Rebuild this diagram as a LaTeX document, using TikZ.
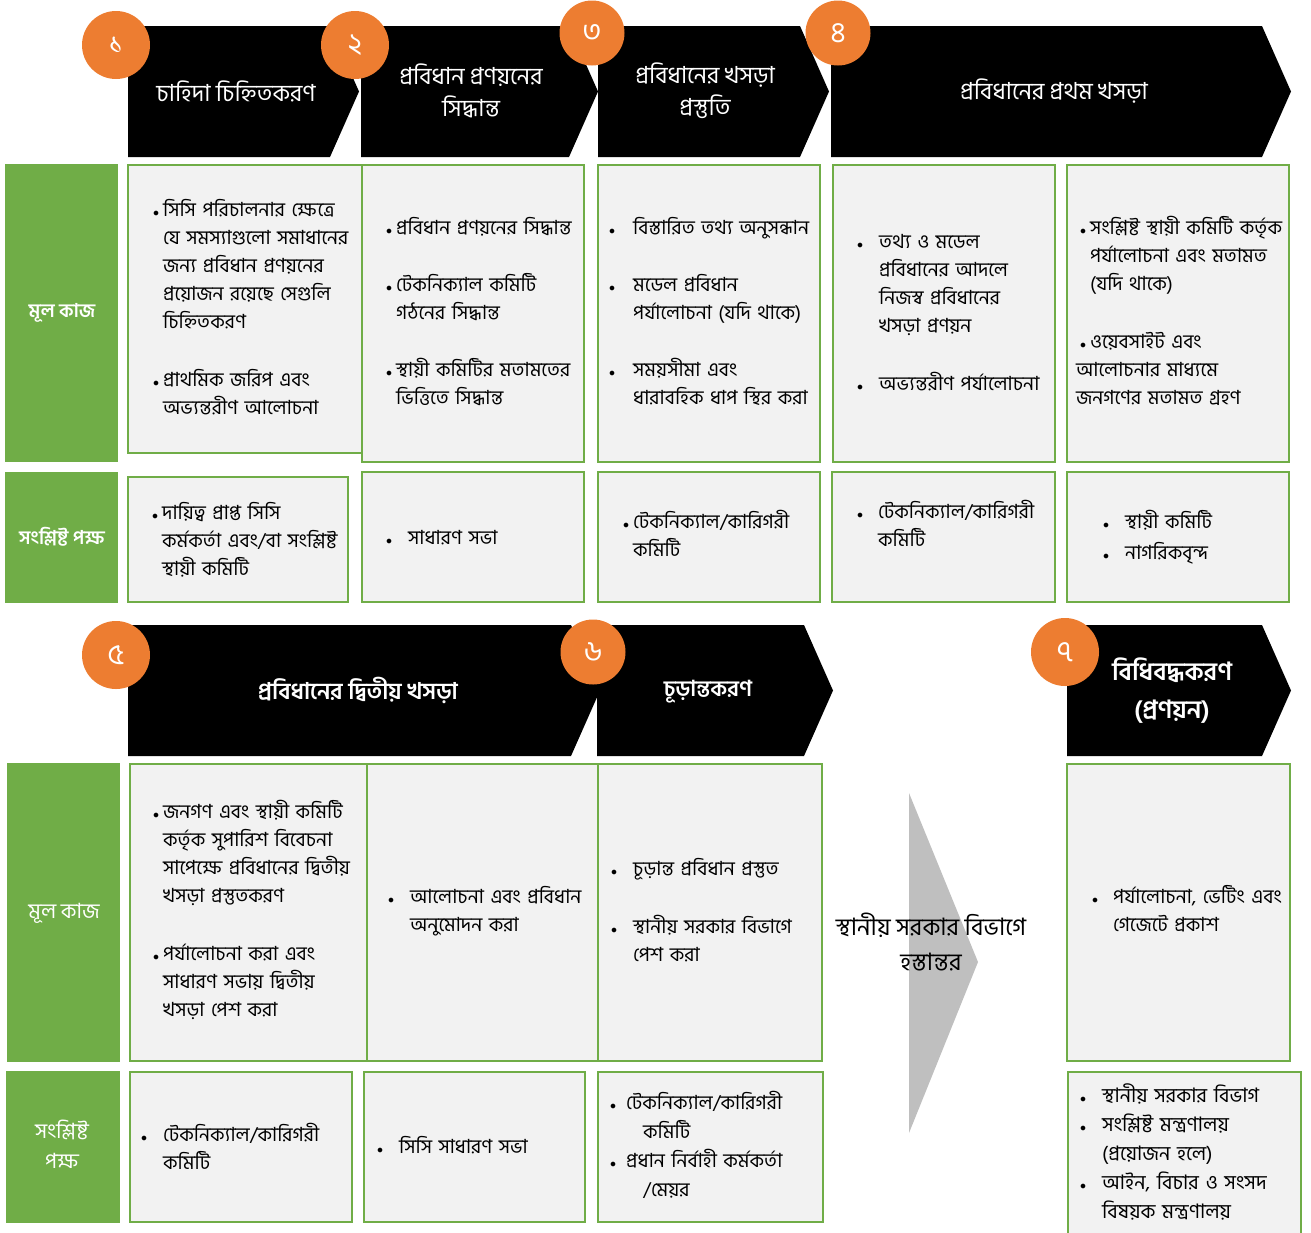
\documentclass[tikz,border=0pt]{standalone}
\usepackage{fontspec}
\setmainfont{Hind Siliguri}[Script=Bengali]
\definecolor{leaf}{HTML}{70AD47}
\definecolor{cellgray}{HTML}{F2F2F2}
\definecolor{badge}{HTML}{ED7D31}
\definecolor{arrowgray}{HTML}{BFBFBF}
\tikzset{
x=1pt, y=-1pt, % one unit is one pixel of the layout
cell/.style={draw=leaf, line width=2.5pt, fill=cellgray}, % grey boxes with green rims
rowlab/.style={text=white, align=center, font=\bfseries\fontsize{19}{30}\selectfont}, % row names in the green bars
num/.style={circle, fill=badge, text=white, minimum size=68pt, inner sep=0pt, font=\fontsize{29}{29}\selectfont}, % step numbers
headtext/.style={text=white, align=center, font=\fontsize{23.5}{32}\selectfont}, % text in the chevrons
body/.style={anchor=base west, text width=280pt, align=left, inner sep=0pt, font=\fontsize{19.5}{28}\selectfont}, % bullet lists
}
\newcommand\bul[1][4pt]{\leavevmode\llap{{\fontsize{13}{13}\selectfont$\bullet$}\hspace{#1}}}
\newcommand\chevron[4]{\fill[black] (#1,#3) -- (#2-29,#3) -- (#2,{(#3+#4)/2}) -- (#2-29,#4) -- (#1,#4) -- cycle;}

\begin{document}
\begin{tikzpicture}
\useasboundingbox (0,0) rectangle (1311,1232);

% steps 1 to 4
\chevron{128}{359}{26}{157}
\chevron{361}{598}{26}{157}
\chevron{598}{829}{26}{157}
\chevron{831}{1291}{26}{157}
% steps 5 to 7
\chevron{128}{600}{625}{756}
\chevron{597}{833}{625}{756}
\chevron{1067}{1291}{625}{756}

\node[headtext] (h1) at (236,91) {চাহিদা চিহ্নিতকরণ};
\node[headtext] (h2) at (471,91) {প্রবিধান প্রণয়নের\\সিদ্ধান্ত};
\node[headtext] (h3) at (705,91) {প্রবিধানের খসড়া\\প্রস্তুতি};
\node[headtext] (h4) at (1054,91) {প্রবিধানের প্রথম খসড়া};
\node[headtext, font=\bfseries\fontsize{23}{32}\selectfont] (h5) at (358,690) {প্রবিধানের দ্বিতীয় খসড়া};
\node[headtext, font=\bfseries\fontsize{22}{32}\selectfont] (h6) at (708,692) {চূড়ান্তকরণ};
\node[headtext, font=\bfseries\fontsize{25}{38}\selectfont] (h7) at (1172,691) {বিধিবদ্ধকরণ\\(প্রণয়ন)};

\node[num] (n1) at (116,45) {১};
\node[num] (n2) at (355,45) {২};
\node[num, minimum size=65pt] (n3) at (592,33) {৩};
\node[num, minimum size=65pt] (n4) at (838,33) {৪};
\node[num] (n5) at (116,655) {৫};
\node[num, minimum size=65pt] (n6) at (593,652) {৬};
\node[num] (n7) at (1065,652) {৭};

% green row bars
\fill[leaf] (5,164) rectangle (118,462);
\fill[leaf] (5,472) rectangle (118,603);
\fill[leaf] (7,763) rectangle (120,1062);
\fill[leaf] (6,1071) rectangle (120,1223);
\node[rowlab] (l1) at (62,313) {মূল কাজ};
\node[rowlab] (l2) at (62,537) {সংশ্লিষ্ট পক্ষ};
\node[rowlab, font=\fontsize{21}{30}\selectfont] (l3) at (64,913) {মূল কাজ};
\node[rowlab, font=\fontsize{21}{30}\selectfont] (l4) at (62,1144) {সংশ্লিষ্ট\\পক্ষ};

% cells
\draw[cell] (128,165) rectangle (362,453);
\draw[cell] (362,165) rectangle (584,462);
\draw[cell] (598,165) rectangle (820,462);
\draw[cell] (833,165) rectangle (1055,462);
\draw[cell] (1067,165) rectangle (1289,462);
\draw[cell] (128,477) rectangle (348,602);
\draw[cell] (362,472) rectangle (584,602);
\draw[cell] (598,472) rectangle (820,602);
\draw[cell] (832,472) rectangle (1055,602);
\draw[cell] (1067,472) rectangle (1289,602);
\draw[cell] (130,764) rectangle (367,1061);
\draw[cell] (367,764) rectangle (598,1061);
\draw[cell] (598,764) rectangle (822,1061);
\draw[cell] (1067,764) rectangle (1290,1061);
\draw[cell] (130,1072) rectangle (352,1222);
\draw[cell] (364,1072) rectangle (585,1222);
\draw[cell] (598,1072) rectangle (823,1222);
\draw[cell] (1068,1072) rectangle (1301,1250);

% hand-over arrow
\fill[arrowgray] (909,793) -- (978,962) -- (909,1133) -- cycle;
\node[align=center, font=\fontsize{24}{35}\selectfont] (t) at (931,942) {স্থানীয় সরকার বিভাগে\\হস্তান্তর};

\node[body] (m1) at (163,216) {\bul সিসি পরিচালনার ক্ষেত্রে\\যে সমস্যাগুলো সমাধানের\\জন্য প্রবিধান প্রণয়নের\\প্রয়োজন রয়েছে সেগুলি\\চিহ্নিতকরণ\\[30pt]\bul প্রাথমিক জরিপ এবং\\অভ্যন্তরীণ আলোচনা};
\node[body] (m2) at (396,234) {\bul প্রবিধান প্রণয়নের সিদ্ধান্ত\\[29pt]\bul টেকনিক্যাল কমিটি\\গঠনের সিদ্ধান্ত\\[29pt]\bul স্থায়ী কমিটির মতামতের\\ভিত্তিতে সিদ্ধান্ত};
\node[body] (m3) at (633,234) {\bul[18pt]বিস্তারিত তথ্য অনুসন্ধান\\[29pt]\bul[18pt]মডেল প্রবিধান\\পর্যালোচনা (যদি থাকে)\\[29pt]\bul[18pt]সময়সীমা এবং\\ধারাবহিক ধাপ স্থির করা};
\node[body] (m4) at (879,248) {\bul[16pt]তথ্য ও মডেল\\প্রবিধানের আদলে\\নিজস্ব প্রবিধানের\\খসড়া প্রণয়ন\\[30pt]\bul[16pt]অভ্যন্তরীণ পর্যালোচনা};
\node[body] (m5) at (1090,234) {\bul সংশ্লিষ্ট স্থায়ী কমিটি কর্তৃক\\পর্যালোচনা এবং মতামত\\(যদি থাকে)\\[30pt]\bul ওয়েবসাইট এবং\\\hspace*{-14pt}আলোচনার মাধ্যমে\\\hspace*{-14pt}জনগণের মতামত গ্রহণ};

\node[body] (p1) at (162,519) {\bul দায়িত্ব প্রাপ্ত সিসি\\কর্মকর্তা এবং/বা সংশ্লিষ্ট\\স্থায়ী কমিটি};
\node[body] (p2) at (408,544) {\bul[16pt]সাধারণ সভা};
\node[body] (p3) at (633,528) {\bul টেকনিক্যাল/কারিগরী\\কমিটি};
\node[body] (p4) at (878,518) {\bul[15pt]টেকনিক্যাল/কারিগরী\\কমিটি};
\node[body] (p5) at (1125,528) {\bul[16pt]স্থায়ী কমিটি\\[3pt]\bul[16pt]নাগরিকবৃন্দ};

\node[body] (m6) at (163,818) {\bul জনগণ এবং স্থায়ী কমিটি\\কর্তৃক সুপারিশ বিবেচনা\\সাপেক্ষে প্রবিধানের দ্বিতীয়\\খসড়া প্রস্তুতকরণ\\[30pt]\bul পর্যালোচনা করা এবং\\সাধারণ সভায় দ্বিতীয়\\খসড়া পেশ করা};
\node[body] (m7) at (410,903) {\bul[16pt]আলোচনা এবং প্রবিধান\\অনুমোদন করা};
\node[body] (m8) at (633,875) {\bul[16pt]চূড়ান্ত প্রবিধান প্রস্তুত\\[30pt]\bul[16pt]স্থানীয় সরকার বিভাগে\\পেশ করা};
\node[body] (m9) at (1113,903) {\bul[15pt]পর্যালোচনা, ভেটিং এবং\\গেজেটে প্রকাশ};

\node[body] (p6) at (163,1141) {\bul[16pt]টেকনিক্যাল/কারিগরী\\কমিটি};
\node[body] (p7) at (399,1153) {\bul[16pt]সিসি সাধারণ সভা};
\node[body, font=\fontsize{19.5}{29}\selectfont] (p8) at (626,1109) {\bul[10pt]টেকনিক্যাল/কারিগরী\\\hspace*{17pt}কমিটি\\\bul[10pt]প্রধান নির্বাহী কর্মকর্তা\\\hspace*{17pt}/মেয়র};
\node[body, font=\fontsize{20}{29}\selectfont] (p9) at (1102,1102) {\bul[16pt]স্থানীয় সরকার বিভাগ\\\bul[16pt]সংশ্লিষ্ট মন্ত্রণালয়\\(প্রয়োজন হলে)\\\bul[16pt]আইন, বিচার ও সংসদ\\বিষয়ক মন্ত্রণালয়};
\end{tikzpicture}
\end{document}
